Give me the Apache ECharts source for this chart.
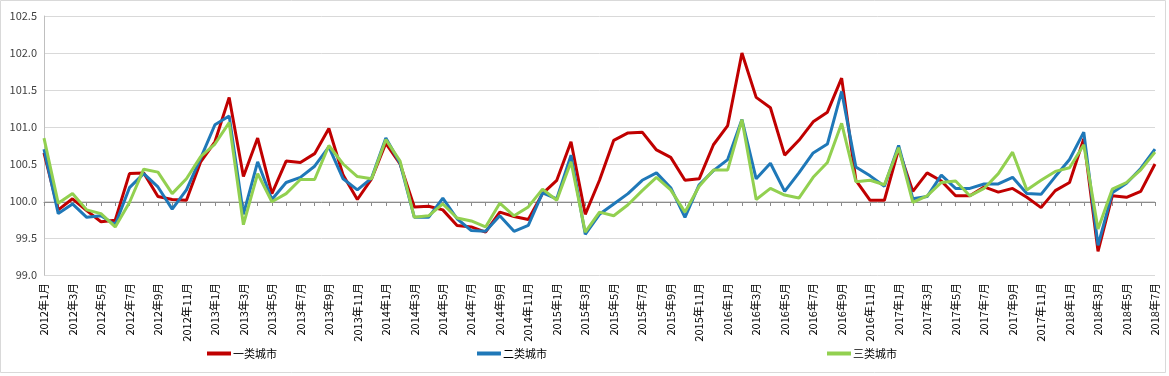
<!DOCTYPE html>
<html>
<head>
<meta charset="utf-8">
<title>城市价格指数</title>
<script src="https://cdn.jsdelivr.net/npm/echarts@6/dist/echarts.min.js"></script>
<style>
  html, body { margin: 0; padding: 0; background: #fff; }
  #chart { width: 1169px; height: 376px; }
</style>
</head>
<body>
<div id="chart"></div>
<script>
// 月份 2012年1月 ~ 2018年7月
const months = []
for (let y = 2012; y <= 2018; y++) {
  for (let m = 1; m <= 12; m++) {
    if (y === 2018 && m > 7) break
    months.push(y + '年' + m + '月')
  }
}

const tier1 = [
  100.65, 99.88, 100.03, 99.87, 99.72, 99.74, 100.37, 100.38, 100.06, 100.02, 100.01, 100.53,
  100.80, 101.40, 100.33, 100.85, 100.10, 100.54, 100.52, 100.64, 100.98, 100.35, 100.02, 100.30,
  100.78, 100.50, 99.92, 99.93, 99.88, 99.67, 99.65, 99.58, 99.85, 99.79, 99.75, 100.10,
  100.28, 100.80, 99.82, 100.28, 100.82, 100.92, 100.93, 100.69, 100.59, 100.28, 100.30, 100.76,
  101.02, 102.00, 101.40, 101.26, 100.62, 100.82, 101.07, 101.20, 101.66, 100.28, 100.01, 100.01,
  100.70, 100.13, 100.38, 100.27, 100.07, 100.07, 100.19, 100.12, 100.17, 100.05, 99.91, 100.14,
  100.25, 100.84, 99.32, 100.07, 100.05, 100.13, 100.50
]
const tier2 = [
  100.70, 99.83, 99.96, 99.78, 99.80, 99.68, 100.18, 100.37, 100.19, 99.89, 100.15, 100.58,
  101.03, 101.15, 99.82, 100.53, 100.02, 100.25, 100.32, 100.47, 100.73, 100.30, 100.15, 100.31,
  100.85, 100.51, 99.78, 99.78, 100.04, 99.76, 99.60, 99.59, 99.80, 99.59, 99.67, 100.11,
  100.03, 100.62, 99.55, 99.82, 99.96, 100.10, 100.28, 100.38, 100.18, 99.78, 100.22, 100.41,
  100.56, 101.10, 100.30, 100.51, 100.13, 100.38, 100.65, 100.77, 101.48, 100.46, 100.34, 100.20,
  100.75, 100.03, 100.06, 100.35, 100.17, 100.17, 100.23, 100.23, 100.32, 100.10, 100.09, 100.33,
  100.56, 100.93, 99.40, 100.11, 100.24, 100.44, 100.70
]
const tier3 = [
  100.85, 99.97, 100.10, 99.88, 99.83, 99.65, 99.98, 100.43, 100.39, 100.10, 100.30, 100.60,
  100.77, 101.06, 99.68, 100.37, 99.99, 100.10, 100.29, 100.29, 100.75, 100.50, 100.33, 100.30,
  100.83, 100.54, 99.78, 99.80, 99.96, 99.77, 99.73, 99.65, 99.97, 99.80, 99.92, 100.16,
  100.01, 100.53, 99.58, 99.85, 99.80, 99.95, 100.14, 100.32, 100.15, 99.85, 100.20, 100.42,
  100.42, 101.10, 100.02, 100.17, 100.08, 100.04, 100.32, 100.52, 101.05, 100.26, 100.28, 100.22,
  100.72, 99.98, 100.07, 100.25, 100.27, 100.07, 100.17, 100.37, 100.66, 100.15, 100.28, 100.40,
  100.45, 100.76, 99.62, 100.16, 100.25, 100.42, 100.66
]

const names = ['一类城市', '二类城市', '三类城市']
const colors = ['#C00000', '#1F78B8', '#92D050']
const font = '"Noto Sans CJK SC", "Noto Sans", sans-serif'

const myChart = echarts.init(document.getElementById('chart'))

function legendAt(name, left) {
  return {
    data: [name],
    left: left,
    top: 348,
    icon: 'rect',
    itemWidth: 24,
    itemHeight: 4,
    itemGap: 2,
    padding: 0,
    textStyle: { color: '#000', fontSize: 11, fontFamily: font, padding: [0, 0, 0, -3] }
  }
}

const options = {
  animation: false,
  color: colors,
  graphic: [
    {
      type: 'rect',
      shape: { x: 0.5, y: 0.5, width: 1165, height: 372 },
      style: { fill: 'none', stroke: '#D9D9D9', lineWidth: 1 },
      silent: true
    }
  ],
  legend: [
    legendAt(names[0], 207),
    legendAt(names[1], 477),
    legendAt(names[2], 827)
  ],
  grid: [
    { left: 44, right: 14, top: 16, bottom: 101 },
    // 横轴穿过 100.0
    { left: 44, right: 14, top: 16, bottom: 174 }
  ],
  xAxis: [
    {
      type: 'category',
      gridIndex: 0,
      data: months,
      boundaryGap: false,
      axisLine: { show: false },
      axisTick: { show: false },
      axisLabel: {
        interval: 1,
        rotate: 90,
        margin: 8,
        color: '#000',
        fontSize: 11,
        fontFamily: font
      },
      splitLine: { show: false }
    },
    {
      type: 'category',
      gridIndex: 1,
      data: months,
      boundaryGap: false,
      axisLine: { lineStyle: { color: '#8C8C8C', width: 1 } },
      axisTick: { show: true, interval: 0, length: 4, lineStyle: { color: '#8C8C8C' } },
      axisLabel: { show: false },
      splitLine: { show: false }
    }
  ],
  yAxis: [
    {
      type: 'value',
      gridIndex: 0,
      min: 99,
      max: 102.5,
      interval: 0.5,
      axisLine: { show: true, lineStyle: { color: '#BFBFBF' } },
      axisTick: { show: false },
      axisLabel: {
        margin: 7,
        color: '#404040',
        fontSize: 11,
        fontFamily: font,
        formatter: v => v.toFixed(1)
      },
      splitLine: { lineStyle: { color: '#D9D9D9' } }
    },
    {
      type: 'value',
      gridIndex: 1,
      show: false
    }
  ],
  series: [
    {
      name: names[0],
      type: 'line',
      data: tier1,
      showSymbol: false,
      symbol: 'none',
      lineStyle: { width: 3, color: colors[0] },
      z: 3
    },
    {
      name: names[1],
      type: 'line',
      data: tier2,
      showSymbol: false,
      symbol: 'none',
      lineStyle: { width: 3, color: colors[1] },
      z: 4
    },
    {
      name: names[2],
      type: 'line',
      data: tier3,
      showSymbol: false,
      symbol: 'none',
      lineStyle: { width: 3, color: colors[2] },
      z: 5
    }
  ]
}
myChart.setOption(options)
</script>
</body>
</html>
